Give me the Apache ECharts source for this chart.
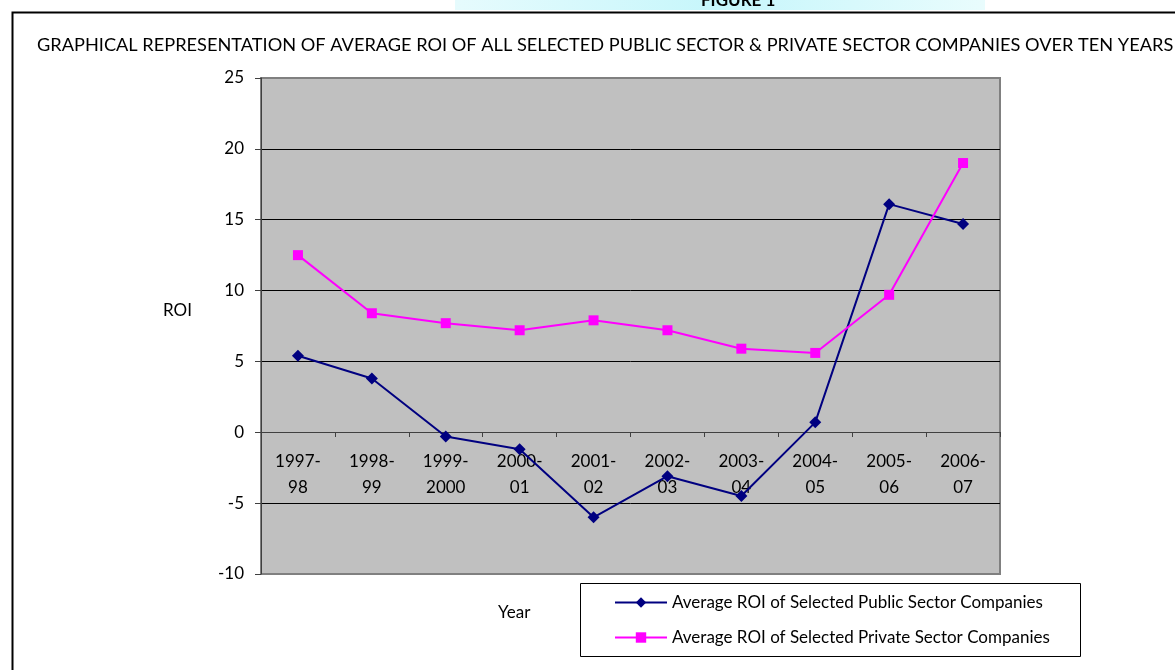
<!DOCTYPE html>
<html>
<head>
<meta charset="utf-8">
<script src="https://cdn.jsdelivr.net/npm/echarts@6/dist/echarts.min.js"></script>
<style>
  html, body { margin: 0; padding: 0; background: #fff; }
  #chart { width: 1175px; height: 670px; }
</style>
</head>
<body>
<div id="chart"></div>
<script>
// values
const years = ['1997-\n98', '1998-\n99', '1999-\n2000', '2000-\n01', '2001-\n02',
               '2002-\n03', '2003-\n04', '2004-\n05', '2005-\n06', '2006-\n07']
const publicROI = [5.4, 3.8, -0.3, -1.2, -6.0, -3.1, -4.5, 0.7, 16.1, 14.7]
const privateROI = [12.5, 8.4, 7.7, 7.2, 7.9, 7.2, 5.9, 5.6, 9.7, 19.0]
const yTicks = { min: -10, max: 25, step: 5 }

const publicName = 'Average ROI of Selected Public Sector Companies'
const privateName = 'Average ROI of Selected Private Sector Companies'
const font = 'Lato, "Open Sans", sans-serif'

const chart = echarts.init(document.getElementById('chart'))

const option = {
    animation: false,
    backgroundColor: '#fff',
    textStyle: { fontFamily: font, color: '#000' },
    title: {
        text: 'GRAPHICAL REPRESENTATION OF AVERAGE ROI OF ALL SELECTED PUBLIC SECTOR & PRIVATE SECTOR COMPANIES OVER TEN YEARS',
        left: 32, top: 31,
        textStyle: { fontFamily: font, fontSize: 18.2, fontWeight: 'normal', color: '#000' }
    },
    graphic: [
        // strip of the page header above the frame
        {
            type: 'rect', left: 455, top: 0, z: -10,
            shape: { width: 530, height: 10 },
            style: {
                fill: new echarts.graphic.LinearGradient(0, 0, 1, 0, [
                    { offset: 0, color: '#e6fbfd' },
                    { offset: 0.5, color: '#c6f6fb' },
                    { offset: 1, color: '#e9fcfd' }
                ])
            }
        },
        {
            type: 'text', left: 701, top: -8, z: -5,
            style: { text: 'FIGURE 1', font: 'bold 17px ' + font, fill: '#000' }
        },
        {
            type: 'rect', left: 10, top: 10, z: -1,
            shape: { width: 1200, height: 700 },
            style: { fill: 'none', stroke: '#000', lineWidth: 2 }
        },
        // legend box
        {
            type: 'rect', left: 580, top: 583, z: 1,
            shape: { width: 500, height: 73 },
            style: { fill: '#fff', stroke: '#000', lineWidth: 1 }
        },
        {
            type: 'text', left: 498, top: 604,
            style: { text: 'Year', font: '17px ' + font, fill: '#000' }
        },
        {
            type: 'text', left: 163, top: 302,
            style: { text: 'ROI', font: '17px ' + font, fill: '#000' }
        }
    ],
    legend: {
        orient: 'vertical',
        left: 609, top: 589,
        itemWidth: 52, itemHeight: 13, itemGap: 18,
        z: 5,
        textStyle: { fontFamily: font, fontSize: 17, color: '#000' },
        data: [publicName, privateName]
    },
    grid: {
        left: 261, top: 78, right: 175, bottom: 96,
        show: true,
        backgroundColor: '#c0c0c0',
        borderColor: '#808080',
        borderWidth: 2
    },
    xAxis: {
        type: 'category',
        data: years,
        boundaryGap: true,
        position: 'bottom',
        // axis sits on the zero line: (0 - min) / (max - min) of the plot height above the bottom
        offset: -142,
        axisLine: { onZero: false, lineStyle: { color: '#404040', width: 1 } },
        axisTick: { show: true, inside: false, length: 5, lineStyle: { color: '#404040' } },
        axisLabel: { color: '#000', fontSize: 17, lineHeight: 26, margin: 17, fontFamily: font, interval: 0 },
        splitLine: { show: false }
    },
    yAxis: {
        type: 'value',
        min: yTicks.min, max: yTicks.max, interval: yTicks.step,
        axisLine: { show: true, lineStyle: { color: '#404040', width: 1 } },
        axisTick: { show: true, length: 6, lineStyle: { color: '#404040' } },
        axisLabel: { color: '#000', fontSize: 17, margin: 17, fontFamily: font },
        splitLine: {
            show: true,
            lineStyle: {
                width: 1,
                color: ['#808080', '#000', '#404040', '#000', '#000', '#000', '#000', '#808080']
            }
        }
    },
    series: [
        {
            name: publicName,
            type: 'line',
            data: publicROI,
            symbol: 'diamond',
            symbolSize: 12,
            itemStyle: { color: '#000080' },
            lineStyle: { color: '#000080', width: 2 },
            z: 3
        },
        {
            name: privateName,
            type: 'line',
            data: privateROI,
            symbol: 'rect',
            symbolSize: 10,
            itemStyle: { color: '#ff00ff' },
            lineStyle: { color: '#ff00ff', width: 2 },
            z: 3
        }
    ]
}

chart.setOption(option)
</script>
</body>
</html>
